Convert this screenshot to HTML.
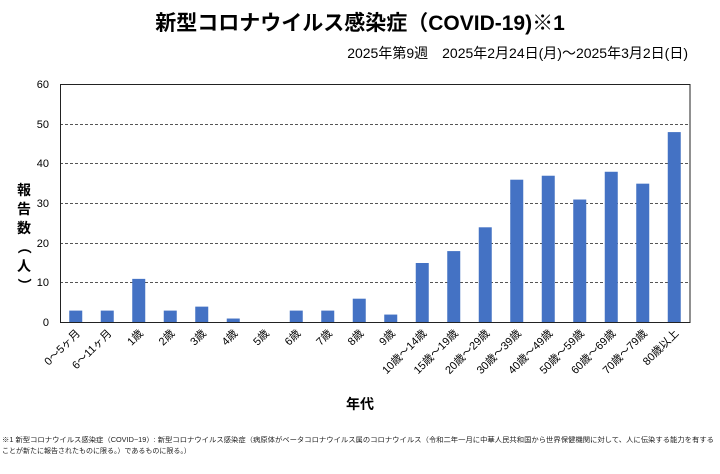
<!DOCTYPE html>
<html><head><meta charset="utf-8"><style>
body{margin:0;background:#fff}
svg{display:block;font-family:"Liberation Sans","Noto Sans CJK JP",sans-serif}
</style></head><body>
<svg width="720" height="474" viewBox="0 0 720 474" xmlns="http://www.w3.org/2000/svg">
<rect width="720" height="474" fill="#fff"/>
<text x="360" y="30" text-anchor="middle" font-size="21" font-weight="bold" fill="#000">新型コロナウイルス感染症（COVID-19)※1</text>
<text x="688" y="58" text-anchor="end" font-size="14" fill="#000">2025年第9週　2025年2月24日(月)～2025年3月2日(日)</text>
<g stroke="#555" stroke-dasharray="3,2" stroke-width="1">
<line x1="60" y1="84.5" x2="690" y2="84.5"/>
<line x1="60" y1="124.5" x2="690" y2="124.5"/>
<line x1="60" y1="163.5" x2="690" y2="163.5"/>
<line x1="60" y1="203.5" x2="690" y2="203.5"/>
<line x1="60" y1="243.5" x2="690" y2="243.5"/>
<line x1="60" y1="282.5" x2="690" y2="282.5"/>
</g>
<g font-size="11" text-anchor="end" fill="#000">
<text x="49" y="88">60</text><text x="49" y="128">50</text><text x="49" y="167">40</text><text x="49" y="207">30</text><text x="49" y="247">20</text><text x="49" y="286">10</text><text x="49" y="326">0</text>
</g>
<g fill="#4472C4" id="bars"></g>
<rect x="60.5" y="84.5" width="629.5" height="238" fill="none" stroke="#222" stroke-width="1"/>
<g id="labels" font-size="11" fill="#000" text-anchor="end"></g>
<text x="360" y="409" text-anchor="middle" font-size="14" font-weight="bold">年代</text>
<g font-size="14" font-weight="bold" text-anchor="middle">
<text x="24" y="195">報</text><text x="24" y="214">告</text><text x="24" y="233">数</text>
<text x="24" y="252" transform="rotate(90 24 247)">（</text><text x="24" y="271">人</text><text x="24" y="290" transform="rotate(90 24 285)">）</text>
</g>
<g font-size="7" fill="#222">
<text x="2" y="442" textLength="712" lengthAdjust="spacingAndGlyphs">※1 新型コロナウイルス感染症（COVID−19）: 新型コロナウイルス感染症（病原体がベータコロナウイルス属のコロナウイルス（令和二年一月に中華人民共和国から世界保健機関に対して、人に伝染する能力を有する</text>
<text x="2" y="453">ことが新たに報告されたものに限る。）であるものに限る。）</text>
</g>
<script>
var v=[3,3,11,3,4,1,0,3,3,6,2,15,18,24,36,37,31,38,35,48];
var L=["0～5ヶ月","6～11ヶ月","1歳","2歳","3歳","4歳","5歳","6歳","7歳","8歳","9歳","10歳～14歳","15歳～19歳","20歳～29歳","30歳～39歳","40歳～49歳","50歳～59歳","60歳～69歳","70歳～79歳","80歳以上"];
var ns="http://www.w3.org/2000/svg",b=document.getElementById("bars"),lg=document.getElementById("labels");
for(var i=0;i<20;i++){var c=60+15.75+31.5*i,h=v[i]*238/60;
var r=document.createElementNS(ns,"rect");r.setAttribute("x",c-6.5);r.setAttribute("y",322.5-h);r.setAttribute("width",13);r.setAttribute("height",h);b.appendChild(r);
var t=document.createElementNS(ns,"text");t.setAttribute("x",c+5);t.setAttribute("y",334);t.setAttribute("transform","rotate(-45 "+(c+5)+" 334)");t.textContent=L[i];lg.appendChild(t);}
</script>
</svg>
</body></html>
